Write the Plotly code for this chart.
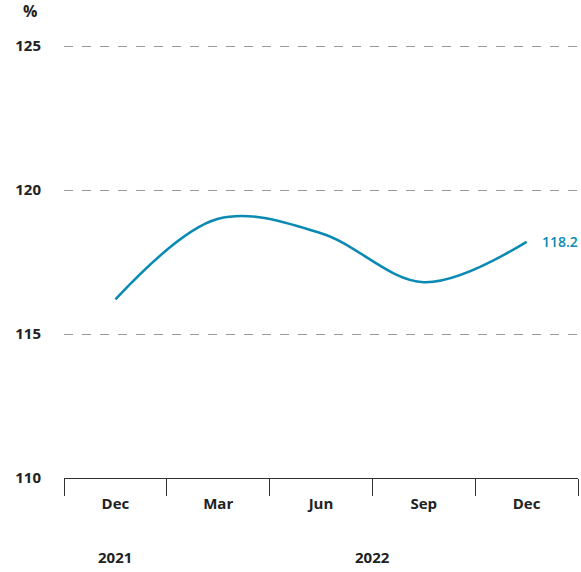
import plotly.graph_objects as go

periods = ["Dec 2021", "Mar 2022", "Jun 2022", "Sep 2022", "Dec 2022"]
months = ["Dec", "Mar", "Jun", "Sep", "Dec"]
ratio = [116.2, 119.0, 118.5, 116.8, 118.2]
years = ["2021", "2022"]
year_pos = [0, 2.5]
y_ticks = [110, 115, 120, 125]

LINE = "#0a8ab3"
TEXT = "#222222"
FONT = "Open Sans"

fig = go.Figure(go.Scatter(
    x=periods,
    y=ratio,
    mode="lines",
    line=dict(color=LINE, width=2.5, shape="spline", smoothing=1.0),
    hoverinfo="skip",
))

# end-of-line value label
fig.add_annotation(
    x=periods[-1], y=ratio[-1], text=f"{ratio[-1]:.1f}",
    showarrow=False, xanchor="left", xshift=13,
    font=dict(family=FONT, size=14, color=LINE, weight=600),
)

for yr, pos in zip(years, year_pos):
    fig.add_annotation(
        x=pos, y=0, yref="paper", yanchor="middle", yshift=-79,
        text=yr, showarrow=False,
        font=dict(family=FONT, size=15, color=TEXT, weight=700),
    )

fig.add_annotation(
    x=-0.066, y=1.074, xref="paper", yref="paper", text="%",
    showarrow=False, xanchor="center", yanchor="middle",
    font=dict(family=FONT, size=16, color=TEXT, weight=700),
)

# top of range sits a little above 125 so the 125 gridline is not dropped
fig.update_layout(
    width=581,
    height=572,
    margin=dict(l=64, r=3, t=43, b=94, autoexpand=False),
    paper_bgcolor="white",
    plot_bgcolor="white",
    showlegend=False,
    xaxis=dict(
        type="category",
        tickmode="array",
        tickvals=periods,
        ticktext=months,
        range=[-0.5, len(periods) - 0.5],
        tickson="boundaries",
        ticks="outside",
        ticklen=17,
        tickcolor="#333333",
        ticklabelstandoff=12,
        showline=True,
        linecolor="#333333",
        linewidth=1,
        showgrid=False,
        zeroline=False,
        automargin=False,
        tickfont=dict(family=FONT, size=15, color=TEXT, weight=700),
        fixedrange=True,
    ),
    yaxis=dict(
        range=[110, 125.104],
        tickvals=y_ticks,
        showgrid=True,
        gridcolor="#999999",
        griddash="dash",
        gridwidth=1,
        zeroline=False,
        showline=False,
        ticks="",
        ticklabelstandoff=22,
        automargin=False,
        tickfont=dict(family=FONT, size=15, color=TEXT, weight=700),
        fixedrange=True,
    ),
)

# drop the browser's default 8px body margin so the figure sits at the corner
fig.write_html(
    "out.html",
    config={"displayModeBar": False},
    post_script="document.body.style.margin = '0';",
)
